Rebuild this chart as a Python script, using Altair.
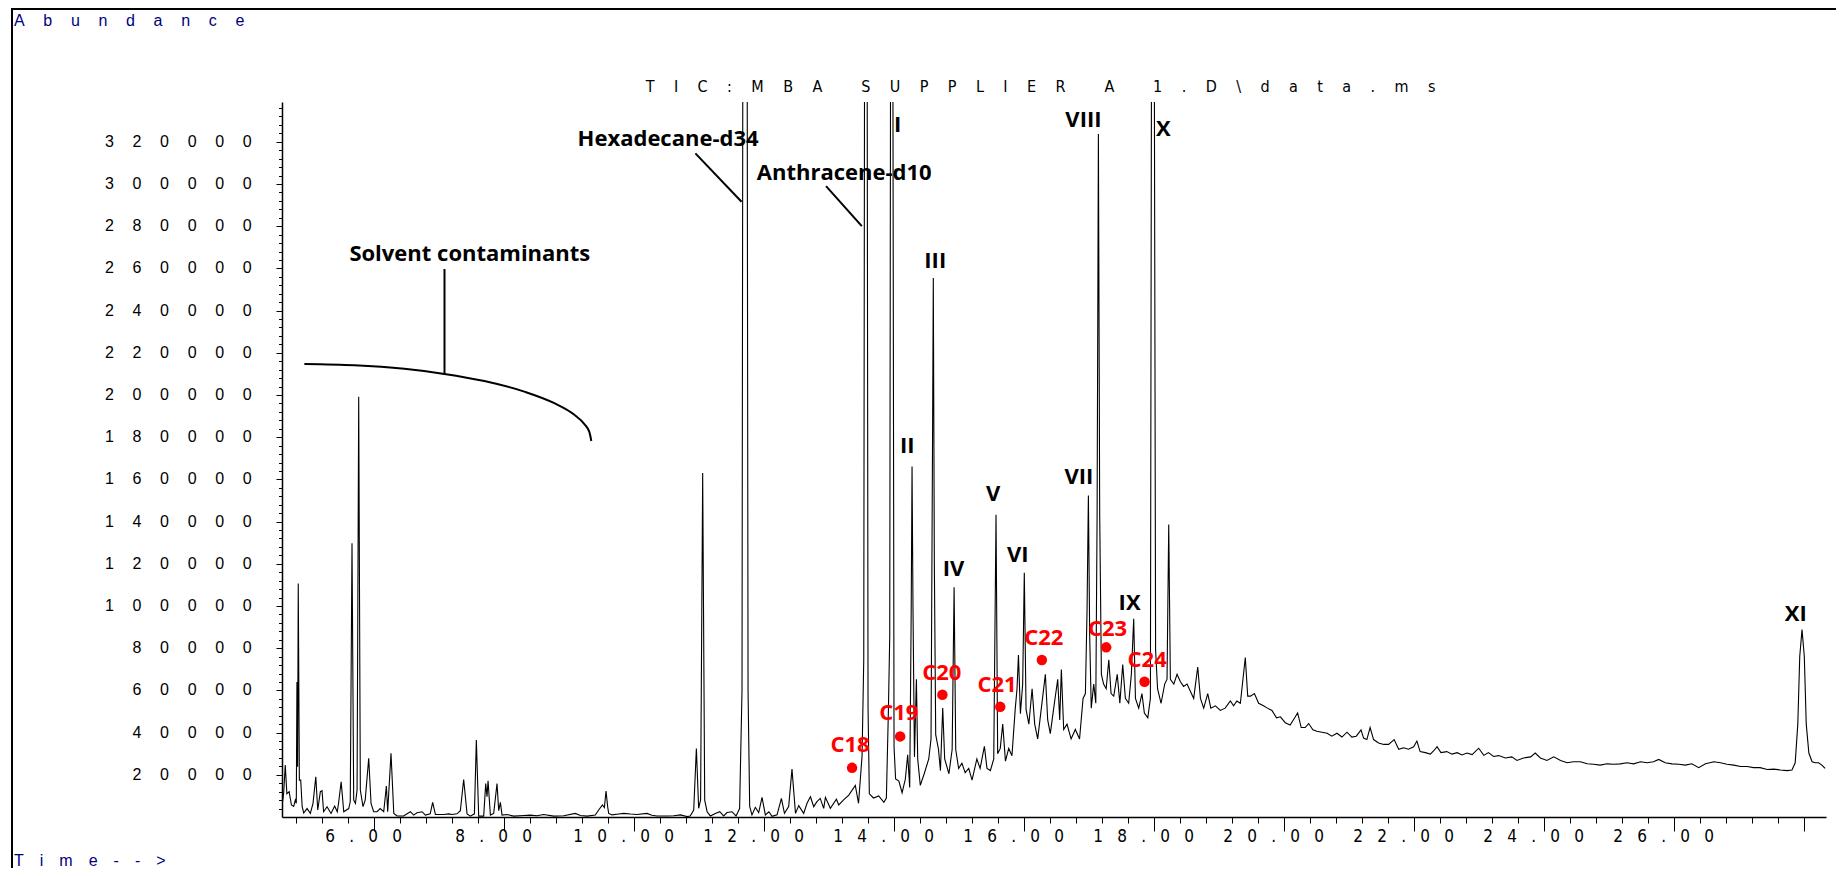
import altair as alt
import pandas as pd

# ---------------- data ----------------
# retention time (min) and abundance (thousands of counts); 420 = off-scale peak
time_min = [
    4.595, 4.615, 4.64, 4.665, 4.70, 4.735, 4.77, 4.795, 4.81, 4.82, 4.83, 4.84, 4.857, 4.878, 4.90, 4.924,
    4.975, 5.026, 5.067, 5.11, 5.14, 5.18, 5.206, 5.23, 5.283, 5.344, 5.40, 5.44, 5.46, 5.50, 5.54, 5.616,
    5.64, 5.667, 5.693, 5.72, 5.745, 5.77, 5.795, 5.836, 5.87, 5.924, 5.96, 6.0, 6.052, 6.10, 6.155, 6.196,
    6.216, 6.267, 6.31, 6.36, 6.46, 6.565, 6.616, 6.667, 6.745, 6.796, 6.87, 6.908, 6.95, 7.078, 7.155, 7.206,
    7.283, 7.334, 7.385, 7.437, 7.488, 7.55, 7.58, 7.616, 7.693, 7.724, 7.744, 7.76, 7.796, 7.847, 7.898, 7.924,
    7.95, 7.975, 8.052, 8.155, 8.31, 8.41, 8.514, 8.616, 8.77, 8.924, 9.103, 9.18, 9.283, 9.41, 9.462, 9.52,
    9.55, 9.575, 9.60, 9.616,
    9.667, 9.77, 9.85, 9.95, 10.05, 10.205, 10.28, 10.36, 10.514, 10.616, 10.72, 10.82, 10.87, 10.924, 10.965,
    11.0, 11.03, 11.062, 11.093, 11.13, 11.18, 11.257, 11.324, 11.385, 11.436, 11.514, 11.575, 11.63, 11.667,
    11.682, 11.744, 11.76, 11.785, 11.82, 11.872, 11.924, 11.975, 12.026, 12.08, 12.13, 12.206, 12.273, 12.32,
    12.385, 12.436, 12.49, 12.54, 12.616, 12.667, 12.72, 12.77, 12.82, 12.87, 12.924, 12.95, 13.026, 13.12,
    13.155, 13.23, 13.31,
    13.41, 13.46, 13.514, 13.54, 13.555, 13.59, 13.606, 13.626, 13.69, 13.77, 13.85, 13.888, 13.92, 13.94,
    13.955, 13.985, 14.006, 14.03, 14.08, 14.13, 14.18, 14.216, 14.247, 14.27, 14.283, 14.298, 14.32, 14.35,
    14.37, 14.41, 14.47, 14.54, 14.575, 14.6, 14.61, 14.626, 14.647, 14.69, 14.72, 14.755, 14.785, 14.85, 14.9,
    14.93, 14.955, 15.0, 15.05, 15.1, 15.155, 15.206, 15.28, 15.33, 15.396, 15.436, 15.488, 15.54, 15.575, 15.6,
    15.64, 15.678, 15.72, 15.77, 15.82, 15.87, 15.898, 15.92, 15.95, 15.985, 16.01, 16.037, 16.08, 16.13, 16.17,
    16.216, 16.27, 16.334, 16.37, 16.41, 16.46, 16.524, 16.555, 16.58, 16.616, 16.667, 16.73, 16.795, 16.86,
    16.914, 16.95, 16.975, 16.996, 17.016, 17.04, 17.078, 17.11, 17.13, 17.15, 17.17, 17.196, 17.23, 17.27,
    17.31, 17.345, 17.386, 17.44, 17.48, 17.524, 17.565, 17.616, 17.657, 17.693, 17.72, 17.77, 17.82, 17.857,
    17.91, 17.95, 17.97, 18.006, 18.03, 18.06, 18.114, 18.17, 18.206, 18.232, 18.257, 18.31, 18.36, 18.41,
    18.46, 18.514, 18.565, 18.616, 18.678, 18.72, 18.77, 18.832, 18.88, 18.95, 19.026, 19.1, 19.18, 19.23,
    19.28, 19.334, 19.41, 19.447,
    19.49, 19.55, 19.615, 19.69, 19.75, 19.82, 19.89, 19.95, 20.025, 20.1, 20.17, 20.215, 20.27, 20.33, 20.385,
    20.45, 20.51, 20.59, 20.67, 20.74, 20.82, 20.897, 20.974, 21.05, 21.117, 21.19, 21.23, 21.28, 21.33, 21.384,
    21.46, 21.54, 21.615, 21.7, 21.77, 21.846, 21.92, 22.0, 22.05, 22.1, 22.18, 22.256, 22.31, 22.36, 22.42,
    22.51, 22.59, 22.67, 22.744, 22.82, 22.9, 23.0, 23.08, 23.15, 23.23, 23.31,
    23.41, 23.51, 23.59, 23.69, 23.8, 23.87, 23.95, 24.05, 24.155, 24.26, 24.36, 24.46, 24.565, 24.67, 24.77,
    24.87, 24.975, 25.08, 25.18, 25.28, 25.385, 25.49, 25.59, 25.69, 25.77, 25.87, 25.975, 26.08, 26.18, 26.28,
    26.385, 26.49, 26.62, 26.72, 26.82, 26.925, 27.03, 27.13, 27.23, 27.33, 27.44, 27.54, 27.64, 27.745, 27.82,
    27.87, 27.91, 27.94, 27.975, 28.01, 28.04, 28.08, 28.13, 28.18, 28.23, 28.28, 28.33,
]
abund_k = [
    6.4, 11.0, 24.6, 11.0, 12.0, 5.7, 5.0, 8.0, 6.5, 64.0, 23.8, 110.7, 17.5, 17.5, 5.0, 1.9,
    4.0, 1.7, 6.5, 19.1, 3.3, 12.0, 12.5, 2.5, 4.9, 1.7, 5.2, 2.5, 6.5, 16.7, 2.5, 4.0,
    7.2, 129.7, 8.0, 6.4, 12.8, 199.2, 12.8, 4.9, 8.0, 27.8, 6.4, 2.5, 2.5, 4.0, 2.5, 14.7,
    2.5, 30.2, 1.7, 0.5, 0.5, 2.5, 0.9, 2.0, 2.5, 0.9, 1.5, 6.9, 1.2, 1.2, 1.5, 1.2,
    1.5, 3.0, 17.8, 1.5, 0.4, 1.5, 36.5, 0.4, 0.4, 15.9, 9.6, 17.2, 0.9, 1.7, 15.9, 3.0,
    6.9, 0.9, 1.2, 0.4, 0.7, 0.9, 0.6, 1.2, 0.4, 0.6, 1.7, 0.7, 0.4, 0.9, 3.3, 5.7,
    4.5, 12.3, 4.9, 1.7,
    1.0, 1.4, 1.7, 1.4, 1.2, 1.7, 0.8, 0.5, 0.5, 0.6, 1.0, 0.2, 0.5, 3.3, 32.5,
    4.1, 8.1, 163.0, 8.0, 2.5, 0.5, 1.7, 2.5, 0.5, 2.1, 2.5, 0.5, 4.0, 60.0,
    420, 420, 60.0, 5.0, 1.0, 4.6, 2.1, 9.3, 1.0, 2.5, 0.3, 1.0, 8.8, 1.7,
    4.9, 22.7, 1.7, 5.4, 1.7, 6.5, 9.6, 4.9, 7.3, 8.8, 4.1, 9.3, 4.1, 8.4,
    5.7, 8.1, 10.4,
    15.0, 6.5, 29.0, 74.5, 420, 420, 51.6, 11.0, 9.0, 10.0, 7.0, 9.0, 51.6, 86.0,
    420, 420, 33.3, 18.0, 17.0, 11.5, 18.0, 29.5, 14.0, 97.4, 166.1, 97.4, 28.5, 65.3,
    27.5, 15.0, 20.5, 27.5, 37.0, 189.0, 255.4, 120.3, 39.0, 32.0, 22.0, 51.6, 27.5, 20.5, 32.0,
    108.9, 32.0, 23.0, 25.5, 21.0, 23.0, 17.5, 27.5, 23.0, 33.5, 23.0, 22.0, 27.5, 143.2, 30.0,
    32.5, 44.0, 26.5, 32.5, 29.0, 51.0, 60.8, 76.8, 49.0, 63.0, 115.7, 51.0, 44.0, 60.8, 44.0,
    37.0, 51.0, 67.6, 46.0, 39.5, 51.0, 65.3, 46.0, 69.9, 41.5, 44.0, 37.0, 41.5, 37.0,
    56.2, 58.5, 97.4, 152.4, 86.0, 51.6, 63.0, 53.9, 143.2, 323.7, 143.2, 67.6, 63.0, 60.8,
    74.5, 58.5, 57.3, 67.6, 53.9, 72.2, 56.2, 53.9, 67.6, 94.0, 56.2, 51.6, 58.5, 49.3,
    47.0, 56.2, 420, 420, 79.1, 60.8, 53.9, 63.0, 65.3, 138.6, 65.3, 63.0, 67.6, 64.2,
    61.9, 63.0, 59.6, 56.2, 71.1, 56.2, 51.6, 58.5, 51.6, 52.7, 50.5, 51.6, 55.0, 52.7,
    55.0, 53.9, 75.6, 57.3,
    57.3, 58.5, 53.9, 52.7, 51.6, 50.5, 47.0, 47.5, 44.7, 43.6, 47.0, 49.3, 42.4, 42.4, 44.3,
    41.3, 40.6, 40.2, 39.7, 38.3, 39.7, 37.9, 40.2, 37.9, 38.3, 41.3, 37.4, 36.7, 42.4, 36.7,
    35.1, 34.4, 34.4, 36.7, 32.1, 32.8, 32.1, 33.3, 36.0, 31.0, 30.5, 29.8, 31.4, 33.3, 30.5,
    31.0, 29.8, 30.5, 29.4, 30.3, 29.6, 32.6, 29.2, 30.5, 28.7, 29.1,
    28.0, 28.5, 26.8, 28.0, 28.5, 30.3, 28.0, 26.8, 28.5, 26.8, 25.7, 26.2, 26.2, 25.2, 25.0,
    24.6, 25.2, 25.0, 25.2, 25.7, 25.2, 26.2, 25.7, 26.2, 27.3, 25.7, 25.2, 25.0, 24.6, 25.2,
    23.4, 25.2, 26.2, 25.7, 25.0, 24.6, 23.9, 23.9, 23.4, 23.4, 22.5, 22.7, 22.3, 22.0, 22.3,
    25.7, 44.0, 76.2, 88.8, 76.2, 44.0, 30.3, 26.2, 25.7, 25.7, 24.6, 23.0,
]

# axis ticks and labels
y_tick_values = [20000, 40000, 60000, 80000, 100000, 120000, 140000, 160000, 180000, 200000,
                 220000, 240000, 260000, 280000, 300000, 320000]
y_tick_labels = [str(v) for v in y_tick_values]
y_minor_ticks = list(range(4000, 336001, 4000))
x_label_values = [6, 8, 10, 12, 14, 16, 18, 20, 22, 24, 26]
x_label_text = ["6.00", "8.00", "10.00", "12.00", "14.00", "16.00", "18.00", "20.00", "22.00", "24.00", "26.00"]
x_minor_ticks = [round(4.8 + 0.4 * i, 1) for i in range(59)]

# peak annotations
peak_labels = ["I", "II", "III", "IV", "V", "VI", "VII", "VIII", "IX", "X", "XI"]
peak_label_t = [14.06, 14.21, 14.64, 14.92, 15.53, 15.91, 16.85, 16.92, 17.63, 18.15, 27.88]
peak_label_k = [324.5, 172.5, 260.0, 114.3, 150.0, 120.7, 157.6, 327.1, 98.0, 322.9, 93.0]

alkane_labels = ["C18", "C19", "C20", "C21", "C22", "C23", "C24"]
alkane_dot_t = [13.36, 14.10, 14.75, 15.64, 16.28, 17.27, 17.86]
alkane_dot_k = [23.3, 38.2, 57.9, 52.2, 74.4, 80.4, 64.1]
alkane_label_t = [13.33, 14.08, 14.74, 15.59, 16.31, 17.29, 17.90]
alkane_label_k = [30.9, 45.8, 64.8, 59.1, 81.3, 85.9, 71.0]

ann_text = ["Hexadecane-d34", "Anthracene-d10", "Solvent contaminants"]
ann_t = [10.53, 13.24, 7.48]
ann_k = [318.2, 301.9, 263.7]
leader_t1 = [10.95, 12.96, 7.09]
leader_k1 = [314.5, 299.0, 259.7]
leader_t2 = [11.66, 13.51, 7.09]
leader_k2 = [291.6, 280.0, 209.9]

bracket_t = [4.934, 5.703, 6.472, 7.088, 7.703, 8.318, 8.78, 9.088, 9.242, 9.318, 9.349]
bracket_k = [214.7, 214.1, 212.4, 210.0, 206.6, 201.6, 196.1, 190.6, 186.2, 182.5, 178.2]

title_text = "TIC:MBA SUPPLIER A 1.D\\data.ms"

# ---------------- layout ----------------
W, H = 1544, 715
X_DOMAIN = [4.59, 4.59 + W / 65.0]
Y_DOMAIN = [0, H / 2.11 * 1000]

SANS = "Liberation Sans, Arial, sans-serif"
NARROW = "Liberation Sans Narrow, DejaVu Sans Condensed, Liberation Sans, sans-serif"
BOLD = "Open Sans, Liberation Sans, sans-serif"
NAVY = "#000080"


def spaced(s, gap, space=""):
    return gap.join(space if c == " " else c for c in s)


xscale = alt.Scale(domain=X_DOMAIN, nice=False, zero=False)
yscale = alt.Scale(domain=Y_DOMAIN, nice=False, zero=False)

x_axis = alt.Axis(
    values=x_minor_ticks, labels=False, title=None, grid=False,
    domainColor="black", domainWidth=1.5, tickColor="black", tickWidth=1,
    tickSize={"condition": {"test": "abs(datum.value / 2 - round(datum.value / 2)) < 0.01", "value": 14}, "value": 6},
)
y_axis = alt.Axis(
    values=y_minor_ticks, labels=False, title=None, grid=False,
    domainColor="black", domainWidth=1.5, tickColor="black", tickWidth=1,
    tickSize={"condition": {"test": "datum.value % 20000 === 0", "value": 6}, "value": 3.5},
)


def X(field="time"):
    return alt.X(f"{field}:Q", scale=xscale, axis=x_axis)


def Y(field="abundance"):
    return alt.Y(f"{field}:Q", scale=yscale, axis=y_axis)


trace_df = pd.DataFrame({"time": time_min, "abundance": [v * 1000 for v in abund_k]})
trace = alt.Chart(trace_df).mark_line(color="black", strokeWidth=1.1, clip=True).encode(x=X(), y=Y())

ylab_df = pd.DataFrame({"abundance": y_tick_values,
                        "label": [spaced(s, "\u2003\u2006") for s in y_tick_labels]})
ylabels = alt.Chart(ylab_df).mark_text(align="right", baseline="middle", font=SANS, fontSize=16,
                                       color="black").encode(y=Y(), x=alt.value(-30.3), text="label:N")

xlab_df = pd.DataFrame({"time": x_label_values,
                        "label": [spaced(s, "\u2002\u2004\u200a") for s in x_label_text]})
xlabels = alt.Chart(xlab_df).mark_text(align="center", baseline="middle", font=NARROW, fontSize=17,
                                       color="black", dx=-10).encode(x=X(), y=alt.value(735), text="label:N")

peak_df = pd.DataFrame({"time": peak_label_t, "abundance": [v * 1000 for v in peak_label_k],
                        "label": peak_labels})
peak_text = alt.Chart(peak_df).mark_text(align="center", baseline="alphabetic", font=BOLD,
                                         fontWeight="bold", fontSize=22, color="black").encode(
    x=X(), y=Y(), text="label:N")

alk_dot_df = pd.DataFrame({"time": alkane_dot_t, "abundance": [v * 1000 for v in alkane_dot_k]})
alk_dots = alt.Chart(alk_dot_df).mark_circle(size=110, color="#ff0000", opacity=1).encode(x=X(), y=Y())
alk_lab_df = pd.DataFrame({"time": alkane_label_t, "abundance": [v * 1000 for v in alkane_label_k],
                           "label": alkane_labels})
alk_text = alt.Chart(alk_lab_df).mark_text(align="center", baseline="alphabetic", font=BOLD,
                                           fontWeight="bold", fontSize=22, color="#ff0000").encode(
    x=X(), y=Y(), text="label:N")

ann_df = pd.DataFrame({"time": ann_t, "abundance": [v * 1000 for v in ann_k], "label": ann_text})
ann_labels = alt.Chart(ann_df).mark_text(align="center", baseline="alphabetic", font=BOLD,
                                         fontWeight="bold", fontSize=22, color="black").encode(
    x=X(), y=Y(), text="label:N")

lead_df = pd.DataFrame({"time": leader_t1, "abundance": [v * 1000 for v in leader_k1],
                        "time2": leader_t2, "abundance2": [v * 1000 for v in leader_k2]})
leaders = alt.Chart(lead_df).mark_rule(color="black", strokeWidth=2).encode(
    x=X(), x2="time2:Q", y=Y(), y2="abundance2:Q")

br_df = pd.DataFrame({"time": bracket_t, "abundance": [v * 1000 for v in bracket_k]})
bracket = alt.Chart(br_df).mark_line(color="black", strokeWidth=2, interpolate="monotone").encode(
    x=X(), y=Y())

one = pd.DataFrame({"d": [0]})
title = alt.Chart(one).mark_text(text=spaced(title_text, "\u2003\u2005\u200a"), align="center",
                                 baseline="middle", font=NARROW, fontSize=16, color="black").encode(
    x=alt.value(758.6), y=alt.value(-15))
abundance_title = alt.Chart(one).mark_text(text=spaced("Abundance", "\u2003\u2006"), align="left",
                                           baseline="alphabetic", font=SANS, fontSize=16, color=NAVY).encode(
    x=alt.value(-268), y=alt.value(-76))
time_title = alt.Chart(one).mark_text(text=spaced("Time-->", "\u2003"), align="left",
                                      baseline="alphabetic", font=SANS, fontSize=16, color=NAVY).encode(
    x=alt.value(-268), y=alt.value(764))
frame_left = alt.Chart(one).mark_rule(color="black", strokeWidth=2).encode(
    x=alt.value(-270), y=alt.value(-94), y2=alt.value(766))
frame_top = alt.Chart(one).mark_rule(color="black", strokeWidth=2).encode(
    x=alt.value(-271), x2=alt.value(1554), y=alt.value(-93))

chart = alt.layer(
    trace, ylabels, xlabels, bracket, leaders, ann_labels, peak_text, alk_dots, alk_text,
    title, abundance_title, time_title, frame_left, frame_top,
).properties(
    width=W, height=H,
    autosize=alt.AutoSizeParams(type="none"),
    padding={"left": 274, "top": 94, "right": 10, "bottom": 51},
).configure_view(stroke=None)

chart.save("out.html", embed_options={"renderer": "svg", "actions": False})
